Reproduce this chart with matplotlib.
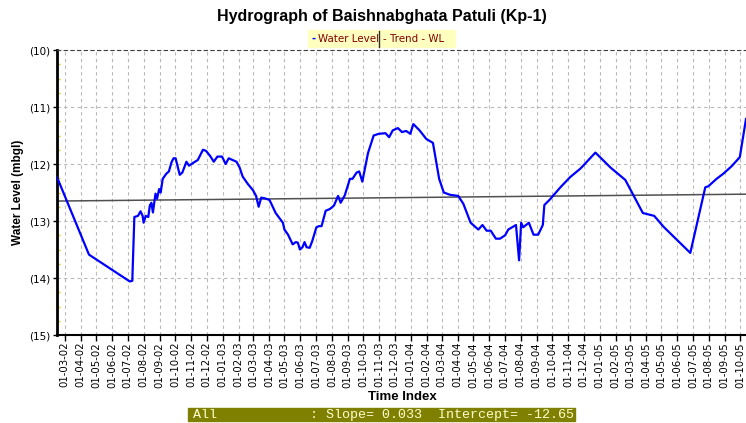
import matplotlib
matplotlib.use("Agg")
import matplotlib.pyplot as plt
import matplotlib.dates as mdates
from matplotlib.patches import Rectangle
from matplotlib.lines import Line2D
from matplotlib.ticker import FuncFormatter, MultipleLocator
import numpy as np
import pandas as pd

# 観測日と水位 (mbgl)
dates = [
    "2002-02-14", "2002-04-17", "2002-07-05", "2002-07-10", "2002-07-14", "2002-07-21",
    "2002-07-26", "2002-07-30", "2002-08-01", "2002-08-05", "2002-08-10", "2002-08-13",
    "2002-08-16", "2002-08-19", "2002-08-24", "2002-08-27", "2002-08-31", "2002-09-03",
    "2002-09-07", "2002-09-14", "2002-09-19", "2002-09-24", "2002-09-28", "2002-10-02",
    "2002-10-10", "2002-10-15", "2002-10-23", "2002-10-28", "2002-11-05", "2002-11-14",
    "2002-11-24", "2002-11-30", "2002-12-08", "2002-12-15", "2002-12-22", "2002-12-31",
    "2003-01-07", "2003-01-13", "2003-01-28", "2003-02-03", "2003-02-09", "2003-02-19",
    "2003-03-01", "2003-03-07", "2003-03-12", "2003-03-17", "2003-03-23", "2003-04-02",
    "2003-04-14", "2003-04-28", "2003-05-01", "2003-05-08", "2003-05-17", "2003-05-23",
    "2003-05-27", "2003-05-31", "2003-06-05", "2003-06-09", "2003-06-13", "2003-06-19",
    "2003-06-24", "2003-07-02", "2003-07-07", "2003-07-12", "2003-07-20", "2003-07-28",
    "2003-08-05", "2003-08-13", "2003-08-18", "2003-08-26", "2003-09-05", "2003-09-10",
    "2003-09-18", "2003-09-23", "2003-09-29", "2003-10-10", "2003-10-21", "2003-10-31",
    "2003-11-13", "2003-11-20", "2003-11-27", "2003-12-07", "2003-12-15", "2003-12-23",
    "2003-12-31", "2004-01-06", "2004-01-18", "2004-01-31", "2004-02-13", "2004-02-25",
    "2004-03-05", "2004-03-17", "2004-04-02", "2004-04-12", "2004-04-26", "2004-05-11",
    "2004-05-19", "2004-05-27", "2004-06-04", "2004-06-14", "2004-06-22", "2004-07-02",
    "2004-07-08", "2004-07-23", "2004-07-29", "2004-08-02", "2004-08-06", "2004-08-17",
    "2004-08-26", "2004-09-04", "2004-09-13", "2004-09-16", "2004-09-27", "2004-10-17",
    "2004-11-05", "2004-11-25", "2004-12-24", "2005-01-22", "2005-02-20", "2005-03-26",
    "2005-04-17", "2005-05-05", "2005-06-26", "2005-07-25", "2005-07-31", "2005-08-16",
    "2005-08-29", "2005-09-14", "2005-09-30", "2005-10-12",
]
levels = [
    12.23, 13.59, 14.06, 14.05, 12.93, 12.91,
    12.83, 12.91, 13.03, 12.91, 12.93, 12.73,
    12.68, 12.85, 12.52, 12.61, 12.44, 12.50,
    12.26, 12.17, 12.13, 11.97, 11.90, 11.90,
    12.19, 12.15, 11.96, 12.03, 11.98, 11.93,
    11.75, 11.77, 11.86, 11.96, 11.87, 11.87,
    12.00, 11.90, 11.96, 12.06, 12.22, 12.35,
    12.46, 12.56, 12.75, 12.59, 12.60, 12.63,
    12.86, 13.03, 13.15, 13.24, 13.41, 13.37,
    13.38, 13.50, 13.46, 13.37, 13.46, 13.47,
    13.35, 13.11, 13.09, 13.09, 12.82, 12.79,
    12.73, 12.56, 12.68, 12.55, 12.26, 12.26,
    12.15, 12.13, 12.31, 11.81, 11.50, 11.47,
    11.46, 11.53, 11.41, 11.37, 11.44, 11.42,
    11.47, 11.30, 11.41, 11.56, 11.63, 12.26,
    12.50, 12.54, 12.56, 12.70, 13.03, 13.15,
    13.07, 13.17, 13.17, 13.31, 13.31, 13.25,
    13.15, 13.07, 13.69, 13.03, 13.11, 13.03,
    13.24, 13.24, 13.07, 12.72, 12.62, 12.41,
    12.23, 12.08, 11.80, 12.06, 12.28, 12.86,
    12.91, 13.10, 13.56, 12.41, 12.39, 12.26,
    12.17, 12.04, 11.88, 11.21,
]

# トレンド
slope = 0.033
intercept = -12.65

t = pd.to_datetime(dates)
wl = -np.array(levels)
years = np.array([0.0, (t[-1] - t[0]).days / 365.25])
trend = intercept + slope * years

W, H = 746, 423
fig = plt.figure(figsize=(W / 100, H / 100), dpi=100)
ax = fig.add_axes([57 / W, 88 / H, 689 / W, 285 / H])

ax.plot(t, wl, color="#0000ff", linewidth=1.6, zorder=3)
ax.plot([t[0], t[-1]], trend, color="#505050", linewidth=1.1, zorder=2)

ax.set_xlim(t[0], t[-1])
ax.set_ylim(-15, -10)

ax.xaxis.set_major_locator(mdates.MonthLocator(bymonthday=1))
ax.xaxis.set_major_formatter(mdates.DateFormatter("%d-%m-%y"))
ax.yaxis.set_major_locator(MultipleLocator(1))
ax.yaxis.set_minor_locator(MultipleLocator(0.25))
ax.yaxis.set_major_formatter(FuncFormatter(lambda v, p: f"({abs(v):.0f})"))

ax.grid(True, color="#b8b8b8", linestyle=(0, (3, 3)), linewidth=0.8, zorder=0)

ax.tick_params(axis="x", direction="out", length=4, width=1, labelsize=7.3,
               pad=1, labelrotation=90)
ax.tick_params(axis="y", which="major", direction="out", length=3, width=1,
               labelsize=7.5, pad=2)
ax.tick_params(axis="y", which="minor", direction="in", length=2, width=1,
               color="#e0d000")

ax.spines["left"].set_linewidth(2)
ax.spines["bottom"].set_linewidth(1.5)
ax.spines["right"].set_visible(False)
ax.spines["top"].set_linestyle((0, (3, 3)))
ax.spines["top"].set_color("#404040")
ax.spines["top"].set_linewidth(0.8)

# タイトルとラベル
fig.text(382 / W, 1 - 17 / H, "Hydrograph of Baishnabghata Patuli (Kp-1)",
         family="Liberation Sans", fontweight="bold", fontsize=11.5,
         ha="center", va="center")
fig.text(18 / W, 1 - 192 / H, "Water Level (mbgl)", family="Liberation Sans",
         fontweight="bold", fontsize=8.5, rotation=90, ha="center", va="center")
fig.text(402 / W, 1 - 397 / H, "Time Index", family="Liberation Sans",
         fontweight="bold", fontsize=9.5, ha="center", va="center")

# 凡例
fig.add_artist(Rectangle((308 / W, 1 - 47 / H), 147 / W, 17 / H,
                         transform=fig.transFigure, color="#ffffc0", zorder=1))
fig.add_artist(Line2D([379 / W, 379 / W], [1 - 47 / H, 1 - 31 / H],
                      transform=fig.transFigure, color="#303030", linewidth=1))
fig.text(312 / W, 1 - 39 / H, "-", color="#0000ff", fontsize=7.5, fontweight="bold",
         ha="left", va="center")
fig.text(318 / W, 1 - 39 / H, "Water Level", color="#800000", fontsize=7.4,
         ha="left", va="center")
fig.text(383 / W, 1 - 39 / H, "- Trend - WL", color="#800000", fontsize=7.4,
         ha="left", va="center")

# 回帰の表示
fig.add_artist(Rectangle((188 / W, 1 - 421 / H), 387 / W, 13 / H,
                         transform=fig.transFigure, color="#808000"))
fig.text(193 / W, 1 - 414.5 / H, "All", family="Liberation Mono", fontsize=9.6,
         color="#ffffd0", ha="left", va="center")
fig.text(310 / W, 1 - 414.5 / H, f": Slope= {slope:.3f}  Intercept= {intercept:.2f}",
         family="Liberation Mono", fontsize=9.6, color="#ffffd0", ha="left", va="center")

fig.savefig("out.png", dpi=100)
